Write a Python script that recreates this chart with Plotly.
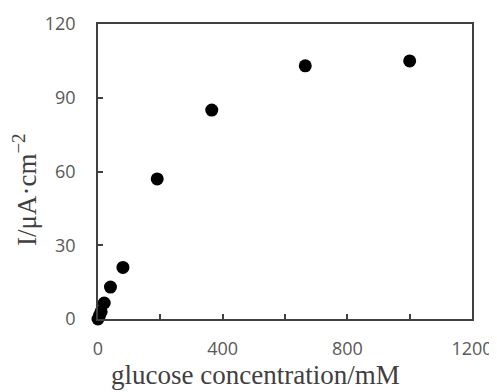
import plotly.graph_objects as go

concentration = [0, 5, 10, 20, 40, 80, 190, 365, 665, 1000]
current = [0, 1.5, 3, 6.5, 13, 21, 57, 85, 103, 105]
x_ticks = [0, 400, 800, 1200]
y_ticks = [0, 30, 60, 90, 120]
x_title = "glucose concentration/mM"
y_title = "I/μA·cm<sup>−2</sup>"

# the page body adds an 8 px offset, so the figure is drawn in page coords minus 8
OFF = 8
W, H = 497 - OFF, 392 - OFF
L, T = 98 - OFF, 24 - OFF
R = W - (472 - OFF)
B = H - (319 - OFF)
pw, ph = W - L - R, H - T - B


def px(x):
    return (x - OFF - L) / pw


def py(y):
    return (H - B - (y - OFF)) / ph


fig = go.Figure()
fig.add_trace(go.Scatter(
    x=concentration, y=current, mode="markers",
    marker=dict(color="black", size=13),
    showlegend=False, cliponaxis=False,
))

axis_line = "#404040"
tick_font = dict(family="Open Sans, Liberation Sans", size=18, color="#595959")
title_font = dict(family="Liberation Serif", size=27, color="#404040")

fig.update_layout(
    width=W, height=H,
    margin=dict(l=L, r=R, t=T, b=B, autoexpand=False),
    paper_bgcolor="white", plot_bgcolor="white",
    xaxis=dict(
        range=[0, 1200], tickvals=x_ticks, ticks="inside", ticklen=5,
        tickcolor=axis_line, tickwidth=1.5,
        minor=dict(ticks="inside", dtick=200, ticklen=5, tickcolor=axis_line, tickwidth=1.5),
        showline=True, linecolor=axis_line, linewidth=1.5, mirror=True,
        showgrid=False, zeroline=False, automargin=False,
        tickfont=tick_font, ticklabelstandoff=13,
    ),
    yaxis=dict(
        range=[0, 120], tickvals=y_ticks, ticks="inside", ticklen=5,
        tickcolor=axis_line, tickwidth=1.5,
        showline=True, linecolor=axis_line, linewidth=1.5, mirror=True,
        showgrid=False, zeroline=False, automargin=False,
        tickfont=tick_font, ticklabelstandoff=17,
    ),
    annotations=[
        dict(text=x_title, xref="paper", yref="paper",
             x=px(255), y=py(375),
             xanchor="center", yanchor="middle", showarrow=False, font=title_font),
        dict(text=y_title, xref="paper", yref="paper",
             x=px(25), y=py(190), textangle=-90,
             xanchor="center", yanchor="middle", showarrow=False, font=title_font),
    ],
)

fig.write_html("out.html")
